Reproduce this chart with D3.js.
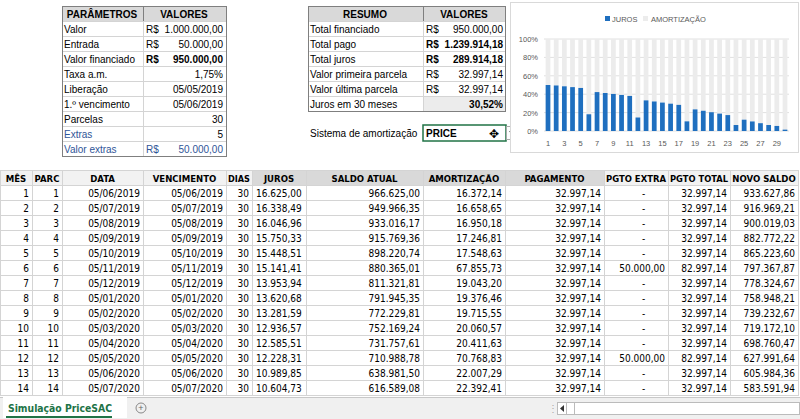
<!DOCTYPE html>
<html><head><meta charset="utf-8">
<script src="https://cdn.jsdelivr.net/npm/d3@7"></script>
<style>body{margin:0;background:#fff}svg{display:block}</style></head>
<body><svg id="s" width="800" height="419"></svg>
<script>
// ---- DATA ----
const paramLabels=["Valor","Entrada","Valor financiado","Taxa a.m.","Liberação","1.º vencimento","Parcelas","Extras","Valor extras"];
const paramValues=["1.000.000,00","50.000,00","950.000,00","1,75%","05/05/2019","05/06/2019","30","5","50.000,00"];
const paramCurrency=[true,true,true,false,false,false,false,false,true];
const resumoLabels=["Total financiado","Total pago","Total juros","Valor primeira parcela","Valor última parcela","Juros em 30 meses"];
const resumoValues=["950.000,00","1.239.914,18","289.914,18","32.997,14","32.997,14","30,52%"];
const resumoCurrency=[true,true,true,true,true,false];
const sistema="PRICE";
const chartCategories=d3.range(1,31);
const jurosPct=[50,49.5,48.6,47.7,46.8,18.2,42.3,41.3,40.3,39.2,38.1,14.7,33.3,32.1,30.9,29.7,28.4,10.5,23.5,22,20.4,18.9,17.3,6.5,12.3,10.4,8.5,6.5,5.5,1.5];
const yTicks=[0,20,40,60,80,100];
const headers=["MÊS","PARC","DATA","VENCIMENTO","DIAS","JUROS","SALDO ATUAL","AMORTIZAÇÃO","PAGAMENTO","PGTO EXTRA","PGTO TOTAL","NOVO SALDO"];
const mes=[1,2,3,4,5,6,7,8,9,10,11,12,13,14];
const datas=["05/06/2019","05/07/2019","05/08/2019","05/09/2019","05/10/2019","05/11/2019","05/12/2019","05/01/2020","05/02/2020","05/03/2020","05/04/2020","05/05/2020","05/06/2020","05/07/2020"];
const dias=30;
const juros=["16.625,00","16.338,49","16.046,96","15.750,33","15.448,51","15.141,41","13.953,94","13.620,68","13.281,59","12.936,57","12.585,51","12.228,31","10.989,85","10.604,73"];
const saldoAtual=["966.625,00","949.966,35","933.016,17","915.769,36","898.220,74","880.365,01","811.321,81","791.945,35","772.229,81","752.169,24","731.757,61","710.988,78","638.981,50","616.589,08"];
const amort=["16.372,14","16.658,65","16.950,18","17.246,81","17.548,63","67.855,73","19.043,20","19.376,46","19.715,55","20.060,57","20.411,63","70.768,83","22.007,29","22.392,41"];
const pagamento="32.997,14";
const pgtoExtra=["-","-","-","-","-","50.000,00","-","-","-","-","-","50.000,00","-","-"];
const pgtoTotal=["32.997,14","32.997,14","32.997,14","32.997,14","32.997,14","82.997,14","32.997,14","32.997,14","32.997,14","32.997,14","32.997,14","82.997,14","32.997,14","32.997,14"];
const novoSaldo=["933.627,86","916.969,21","900.019,03","882.772,22","865.223,60","797.367,87","778.324,67","758.948,21","739.232,67","719.172,10","698.760,47","627.991,64","605.984,36","583.591,94"];

// ---- DRAW ----
const svg=d3.select("#s");
const F="'Liberation Sans',Arial,sans-serif", FN="'DejaVu Sans Condensed','Liberation Sans',sans-serif";
const grid="#d4d4d4", dark="#7f7f7f";
function cell(x,y,w,h,fill,stroke){svg.append("rect").attr("x",x+.5).attr("y",y+.5).attr("width",w).attr("height",h).attr("fill",fill||"none").attr("stroke",stroke||grid);}
function txt(x,y,t,o={}){const e=svg.append("text").attr("x",x).attr("y",y).text(t).attr("font-family",o.f||F).attr("font-size",o.s||10)
 .attr("font-weight",o.b?"bold":"normal").attr("fill",o.c||"#000").attr("text-anchor",o.a||"start");
 if(o.max){const L=e.node().getComputedTextLength();if(L>o.max)e.attr("textLength",o.max).attr("lengthAdjust","spacingAndGlyphs");}
 return e;}

// Parameters table
const pY=d3.scaleLinear().domain([0,10]).range([6,156]);
cell(62,6,81,15,"#d9d9d9",dark);cell(143,6,83,15,"#d9d9d9",dark);
txt(102,17.5,"PARÂMETROS",{b:1,a:"middle"});txt(184,17.5,"VALORES",{b:1,a:"middle"});
paramLabels.forEach((l,i)=>{const y=pY(i+1),b=i==2,c=i>=7?"#2f5597":"#000",vc=i==8?"#2f5597":"#000";
 cell(62,y,81,15,"#fff");cell(143,y,83,15,"#fff");
 txt(64,y+11.5,l,{c,max:77});
 if(paramCurrency[i])txt(146,y+11.5,"R$",{b,c:vc});
 txt(223,y+11.5,paramValues[i],{a:"end",b,c:vc,max:i==0?60:80});});
svg.append("rect").attr("x",62.5).attr("y",6.5).attr("width",164).attr("height",150).attr("fill","none").attr("stroke",dark);

// Resumo table
cell(308,6,115,15,"#d9d9d9",dark);cell(423,6,82,15,"#d9d9d9",dark);
txt(365,17.5,"RESUMO",{b:1,a:"middle"});txt(464,17.5,"VALORES",{b:1,a:"middle"});
resumoLabels.forEach((l,i)=>{const y=pY(i+1),b=(i==1||i==2||i==5);
 cell(308,y,115,15,"#fff");cell(423,y,82,15,i==5?"#ececec":"#fff");
 txt(310,y+11.5,l,{max:110});
 if(resumoCurrency[i])txt(426,y+11.5,"R$",{b});
 txt(503,y+11.5,resumoValues[i],{a:"end",b,max:i==1?62:78});});
svg.append("rect").attr("x",308.5).attr("y",6.5).attr("width",197).attr("height",105).attr("fill","none").attr("stroke",dark);
txt(310,137,"Sistema de amortização",{max:108});
svg.append("rect").attr("x",423).attr("y",125).attr("width",83).attr("height",16).attr("fill","#fff").attr("stroke","#217346").attr("stroke-width",1.5);
txt(426,137,sistema,{b:1});
svg.append("text").attr("x",494).attr("y",138).text("✥").attr("font-size",12).attr("text-anchor","middle");
svg.append("rect").attr("x",506.5).attr("y",126.5).attr("width",11).attr("height",13).attr("fill","#fff").attr("stroke","#aaa");
svg.append("path").attr("d","M509,131 l6,0 l-3,4z").attr("fill","#555");

// Chart
svg.append("rect").attr("x",510.5).attr("y",2.5).attr("width",288).attr("height",150).attr("fill","#fff").attr("stroke","#d9d9d9");
const x=d3.scaleBand().domain(chartCategories).range([544,789]).paddingInner(0.42).paddingOuter(0.2);
const y=d3.scaleLinear().domain([0,100]).range([131,39]);
yTicks.forEach(t=>{svg.append("line").attr("x1",544).attr("x2",789).attr("y1",y(t)).attr("y2",y(t)).attr("stroke","#e0e0e0");
 txt(538,y(t)+3,t+"%",{s:7.5,c:"#595959",a:"end"});});
const g=svg.append("g");
g.selectAll(".a").data(jurosPct).join("rect").attr("x",(d,i)=>x(chartCategories[i])).attr("width",x.bandwidth())
 .attr("y",y(100)).attr("height",d=>y(d)-y(100)).attr("fill","#ececec");
g.selectAll(".j").data(jurosPct).join("rect").attr("x",(d,i)=>x(chartCategories[i])).attr("width",x.bandwidth())
 .attr("y",d=>y(d)).attr("height",d=>y(0)-y(d)).attr("fill","#1f6fbf");
chartCategories.filter(c=>c%2==1).forEach(c=>txt(x(c)+x.bandwidth()/2,146,c,{s:7.5,c:"#595959",a:"middle"}));
svg.append("rect").attr("x",605).attr("y",16).attr("width",5).attr("height",5).attr("fill","#1f6fbf");
txt(612,22,"JUROS",{s:7.5,c:"#595959"});
svg.append("rect").attr("x",643).attr("y",16).attr("width",5).attr("height",5).attr("fill","#ececec");
txt(651,22,"AMORTIZAÇÃO",{s:7.5,c:"#595959"});

// Main table
const colX=[0,32,62,143,226,252,306,423,505,604,668,730,798];
const hdrFill=[0,0,0,0,0,1,1,1,1,0,0,0];
headers.forEach((h,i)=>{const w=colX[i+1]-colX[i];cell(colX[i],170,w,15,hdrFill[i]?"#d9d9d9":"#f2f2f2");
 txt((colX[i]+colX[i+1])/2,181.5,h,{f:FN,b:1,a:"middle",s:9.5,max:w-4});});
const rY=d3.scaleLinear().domain([0,1]).range([185,200]);
mes.forEach((m,r)=>{const yy=rY(r);
 const vals=[m,m,datas[r],datas[r],dias,juros[r],saldoAtual[r],amort[r],pagamento,pgtoExtra[r],pgtoTotal[r],novoSaldo[r]];
 vals.forEach((v,i)=>{const w=colX[i+1]-colX[i];cell(colX[i],yy,w,15,"#fff");
  const a=i==5?"start":(i==9&&v=="-")?"middle":"end";
  const xx=a=="start"?colX[i]+4:a=="middle"?colX[i]+w*0.62:colX[i+1]-3;
  txt(xx,yy+11.5,v,{f:FN,a,s:10,max:w-6});});});

// Sheet tab bar
svg.append("rect").attr("x",0).attr("y",397).attr("width",800).attr("height",22).attr("fill","#f0f0f0");
svg.append("line").attr("x1",0).attr("x2",800).attr("y1",397.5).attr("y2",397.5).attr("stroke","#c8c8c8");
svg.append("rect").attr("x",3).attr("y",397).attr("width",124).attr("height",21).attr("fill","#fff");
svg.append("line").attr("x1",6).attr("x2",112).attr("y1",417).attr("y2",417).attr("stroke","#217346").attr("stroke-width",2);
txt(8,412,"Simulação PriceSAC",{f:FN,b:1,c:"#217346",s:10.5,max:104});
svg.append("circle").attr("cx",141).attr("cy",408).attr("r",5).attr("fill","none").attr("stroke","#888");
txt(141,411,"+",{a:"middle",s:9,c:"#666"});
svg.append("text").attr("x",548).attr("y",412).text("⋮").attr("fill","#aaa").attr("font-size",10);
svg.append("rect").attr("x",557.5).attr("y",402.5).attr("width",242).attr("height",12).attr("fill","#fff").attr("stroke","#bbb");
svg.append("rect").attr("x",557.5).attr("y",402.5).attr("width",9).attr("height",12).attr("fill","#fff").attr("stroke","#bbb");
svg.append("path").attr("d","M564,405 l0,7 l-4,-3.5z").attr("fill","#333");
svg.append("rect").attr("x",566.5).attr("y",402.5).attr("width",8).attr("height",12).attr("fill","#fff").attr("stroke","#bbb");
</script></body></html>
